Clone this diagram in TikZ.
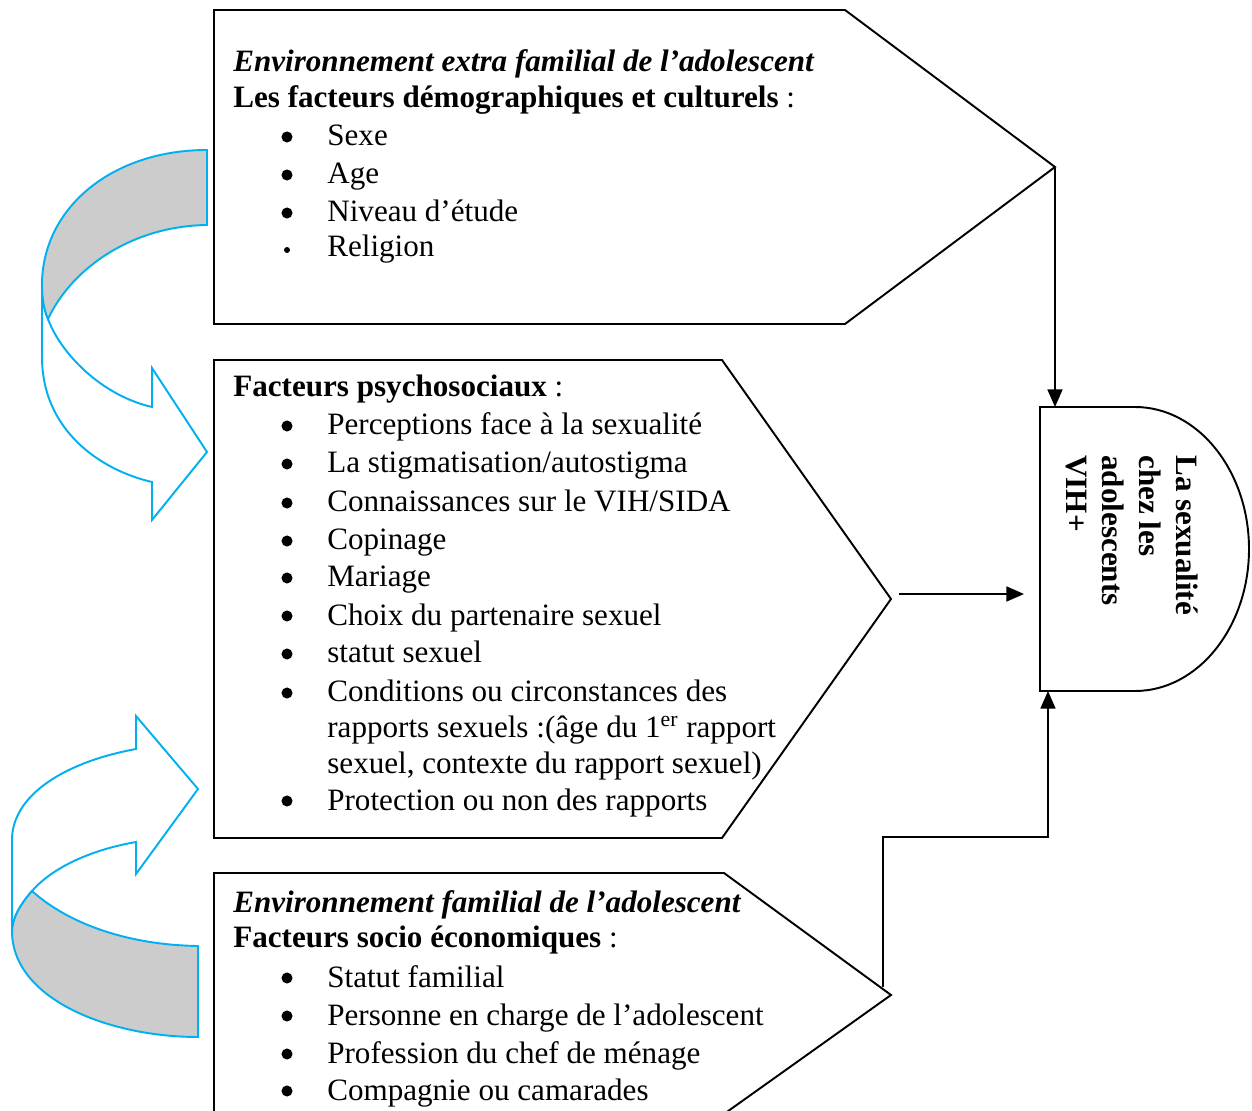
\documentclass[tikz,border=0pt]{standalone}
\usepackage{fontspec}
\setmainfont{Liberation Serif}
\usetikzlibrary{arrows.meta}
\definecolor{cyanb}{RGB}{0,176,240}
\definecolor{grayband}{RGB}{204,204,204}
\newcommand\bodyfs{\fontsize{17.7pt}{21pt}\selectfont}
\begin{document}
\begin{tikzpicture}[x=0.02cm,y=-0.02cm,
 txt/.style={anchor=base west, inner sep=0pt, font=\bodyfs},
 bul/.style={circle, fill=black, inner sep=0pt, minimum size=6.3pt},
 smallbul/.style={circle, fill=black, inner sep=0pt, minimum size=3.4pt},
 panel/.style={draw, line width=1.1pt, fill=white, line join=miter},
 band/.style={draw=cyanb, line width=1.1pt, line join=miter},
 conn/.style={line width=1.1pt, -{Triangle[length=10pt,width=8.5pt]}}]
\useasboundingbox (0,0) rectangle (1252,1111);

% panels
\draw[panel] (214,10) -- (845,10) -- (1055,167) -- (845,324) -- (214,324) -- cycle;
\draw[panel] (214,360) -- (722,360) -- (891,599) -- (722,838) -- (214,838) -- cycle;
\draw[panel] (214,1118) -- (214,873) -- (724,873) -- (891,995) -- (724,1114);

% box 1 text
\node[txt,font=\bodyfs\bfseries\itshape] (h1a) at (233,72) {Environnement extra familial de l’adolescent};
\node[txt] (h1b) at (233,108) {\textbf{Les facteurs démographiques et culturels} :};
\foreach \y/\t [count=\i] in {146/Sexe, 184/Age, 222/{Niveau d’étude}}{
  \node[bul] (ba\i) at (287,\y-9) {};
  \node[txt] (ta\i) at (327,\y) {\t};
}
\node[smallbul] (ba4) at (287,250) {};
\node[txt] (ta4) at (327,257) {Religion};

% box 2 text
\node[txt] (h2a) at (233,397) {\textbf{Facteurs psychosociaux} :};
\foreach \y/\t [count=\i] in {435/{Perceptions face à la sexualité}, 473/{La stigmatisation/autostigma}, 512/{Connaissances sur le VIH/SIDA}, 550/{Copinage}, 587/{Mariage}, 625/{Choix du partenaire sexuel}, 663/{statut sexuel}, 702/{Conditions ou circonstances des}, 810/{Protection ou non des rapports}}{
  \node[bul] (bb\i) at (287,\y-9) {};
  \node[txt] (tb\i) at (327,\y) {\t};
}
\node[txt] (tb10) at (327,738) {rapports sexuels :(âge du 1\textsuperscript{er} rapport};
\node[txt] (tb11) at (327,773) {sexuel, contexte du rapport sexuel)};

% box 3 text
\node[txt,font=\bodyfs\bfseries\itshape] (h3a) at (233,912) {Environnement familial de l’adolescent};
\node[txt] (h3b) at (233,947) {\textbf{Facteurs socio économiques} :};
\foreach \y/\t [count=\i] in {987/{Statut familial}, 1025/{Personne en charge de l’adolescent}, 1063/{Profession du chef de ménage}, 1100/{Compagnie ou camarades}}{
  \node[bul] (bc\i) at (287,\y-9) {};
  \node[txt] (tc\i) at (327,\y) {\t};
}

% result shape
\draw[line width=1.1pt] (1040,407) -- (1135,407) .. controls (1198,407) and (1249,471) .. (1249,549) .. controls (1249,627) and (1198,691) .. (1135,691) -- (1040,691) -- cycle;
\node[txt,rotate=-90,font=\bodyfs\bfseries] (r1) at (1176,455) {La sexualité};
\node[txt,rotate=-90,font=\bodyfs\bfseries] (r2) at (1139,455) {chez les};
\node[txt,rotate=-90,font=\bodyfs\bfseries] (r3) at (1102,455) {adolescents};
\node[txt,rotate=-90,font=\bodyfs\bfseries] (r4) at (1066,455) {VIH+};

% connectors
\coordinate (tip1) at (1055,168);
\coordinate (dtop) at (1055,407);
\coordinate (m2) at (899,594);
\coordinate (dleft) at (1024,594);
\coordinate (s3) at (883,987);
\coordinate (elb) at (1048,837);
\coordinate (dbot) at (1048,691);
\draw[conn] (tip1) -- (dtop);
\draw[conn] (m2) -- (dleft);
\draw[conn] (s3) |- (elb) -- (dbot);

% top curved arrow
\draw[band,fill=white] (42,285) -- (42,357) .. controls (42,430) and (100,470) .. (152,482) -- (152,520) -- (207,452) -- (152,368) -- (152,407) .. controls (100,395) and (60,352) .. (48,319) .. controls (44,310) and (42,298) .. (42,285) -- cycle;
\draw[band,fill=grayband] (207,150) .. controls (112,150) and (42,208) .. (42,285) .. controls (42,298) and (44,310) .. (48,319) .. controls (72,268) and (132,226) .. (207,225) -- cycle;

% bottom curved arrow
\draw[band,fill=white] (12,933) -- (12,840) .. controls (12,795) and (65,762) .. (136,749) -- (136,716) -- (198,789) -- (136,874) -- (136,842) .. controls (90,850) and (52,868) .. (32,891) .. controls (20,905) and (12,918) .. (12,933) -- cycle;
\draw[band,fill=grayband] (32,891) .. controls (70,925) and (130,945) .. (198,946) -- (198,1037) .. controls (110,1037) and (14,1000) .. (12,933) .. controls (12,918) and (20,905) .. (32,891) -- cycle;
\end{tikzpicture}
\end{document}
